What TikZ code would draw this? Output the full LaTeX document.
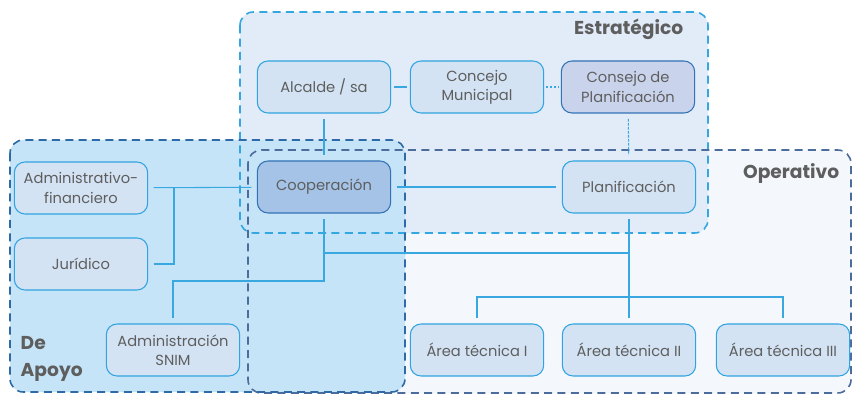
\documentclass[tikz,border=0pt]{standalone}
\usepackage{fontspec}
\setmainfont{Poppins}
\usetikzlibrary{positioning}

\definecolor{estfill}{HTML}{E1ECF8}
\definecolor{estline}{HTML}{35A7E0}
\definecolor{opfill}{HTML}{F4F8FD}
\definecolor{opline}{HTML}{4C6C9C}
\definecolor{apfill}{HTML}{C6E4F7}
\definecolor{apline}{HTML}{2E6AA6}
\definecolor{boxfill}{HTML}{D3E3F4}
\definecolor{boxline}{HTML}{2FA4E0}
\definecolor{darkfill}{HTML}{A4C3E6}
\definecolor{darkline}{HTML}{3272B6}
\definecolor{consfill}{HTML}{C9D4EC}
\definecolor{linkcol}{HTML}{3AA8E0}
\definecolor{txtgray}{HTML}{5E5E5E}

\tikzset{
  unit/.style={draw=boxline, fill=boxfill, rounded corners=8pt, thick,
    minimum width=100pt, minimum height=39pt, align=center, inner sep=1pt,
    text=txtgray, font=\fontsize{11}{14.5}\selectfont},
  link/.style={draw=linkcol, thick, shorten <=4pt, shorten >=4pt},
  zone/.style={dashed, very thick, dash pattern=on 6pt off 4pt, rounded corners=10pt},
  zonelabel/.style={text=txtgray, font=\fontsize{14}{20}\selectfont\bfseries}
}

\begin{document}
\begin{tikzpicture}[x=0.75pt, y=-0.75pt]
\useasboundingbox (0,0) rectangle (852,395);

% zonas
\fill[opfill, rounded corners=10pt] (248,150) rectangle (851,393);
\fill[estfill, rounded corners=10pt] (240,12) rectangle (708,233);
\fill[apfill, rounded corners=10pt] (10,140) rectangle (405,392);
\draw[zone, draw=estline] (240,12) rectangle (708,233);
\draw[zone, draw=opline] (248,150) rectangle (851,393);
\draw[zone, draw=apline] (10,140) rectangle (405,392);

\node[zonelabel, anchor=east] (est) at (688,29) {Estratégico};
\node[zonelabel, anchor=east] (oper) at (844,174) {Operativo};
\node[zonelabel, anchor=west, align=left] (apoyo) at (16,359) {De\\Apoyo};

% unidades
\node[unit] (alcalde) at (324,87) {Alcalde / sa};
\node[unit] (concejo) at (477,87) {Concejo\\Municipal};
\node[unit, fill=consfill, draw=darkline] (consejo) at (628,87) {Consejo de\\Planificación};
\node[unit, fill=darkfill, draw=darkline] (coop) at (324,187) {Cooperación};
\node[unit] (plan) at (629,187) {Planificación};
\node[unit] (adminfin) at (81,188) {Administrativo-\\financiero};
\node[unit] (juridico) at (81,264) {Jurídico};
\node[unit] (snim) at (173,350) {Administración\\SNIM};
\node[unit] (area1) at (477,350) {Área técnica I};
\node[unit] (area2) at (629,350) {Área técnica II};
\node[unit] (area3) at (783,350) {Área técnica III};

% puntos de union
\coordinate (apfork) at (174,188);
\coordinate (coopdrop) at (324,281);
\coordinate (opbus) at (629,253);
\coordinate (areabus) at (629,297);

% conectores
\draw[link, shorten <=2pt, shorten >=2pt] (alcalde) -- (concejo);
\draw[link, dashed, dash pattern=on 2pt off 1pt, shorten <=1pt, shorten >=1pt] (concejo) -- (consejo);
\draw[link, dashed, dash pattern=on 2pt off 1pt] (consejo) -- (plan);
\draw[link] (alcalde) -- (coop);
\draw[link] (coop) -- (plan);
\draw[link] (adminfin) -- (coop);
\draw[link, shorten >=0pt] (juridico.east) -| (apfork);
\draw[link, shorten >=4pt] (coop.south) -- (coopdrop) -| (snim.north);
\draw[link, shorten <=0pt, shorten >=0pt] (coop.south |- opbus) -- (opbus);
\draw[link] (plan) -- (area2);
\draw[link] (area1.north) |- (areabus) -| (area3.north);
\end{tikzpicture}
\end{document}
